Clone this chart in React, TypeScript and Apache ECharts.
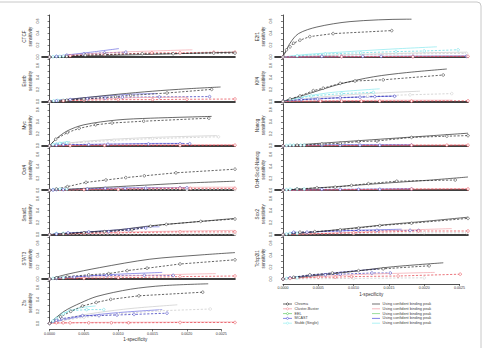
import { useEffect, useRef } from 'react';
import * as echarts from 'echarts';

// x values: 1-specificity in units of 1e-4; y values: sensitivity.
const LEFT_PANELS = ['CTCF', 'Esrrb', 'Myc', 'Oct4', 'Smad1', 'STAT3', 'Zfx'];
const RIGHT_PANELS = ['E2f1', 'Klf4', 'Nanog', 'Oct4-Sox2-Nanog', 'Sox2', 'Tcfcp2l1'];
const METHODS = ['Chroma', 'Cluster-Buster', 'EEL', 'MCAST', 'Stubb (Single)'];
const CONF_LABEL = 'Using confident binding peak';
const Y_TICKS = [0, 0.1, 0.2, 0.3, 0.4, 0.5, 0.6, 0.7];
const Y_LABELS = [0, 0.2, 0.4, 0.6];

// CTCF
const ctcfChroma = [[0, 0], [2.5, 0.01], [5.2, 0.03], [8.1, 0.04], [13.5, 0.055], [18, 0.055], [23.9, 0.065], [27, 0.065]];
const ctcfChromaConf = [[0, 0], [5, 0.015], [10, 0.03], [15, 0.045], [20, 0.06], [27, 0.08]];
const ctcfCluster = [[0, 0], [3, 0.02], [8, 0.04], [14.9, 0.07], [19, 0.07], [23.9, 0.08], [27, 0.08]];
const ctcfClusterConf = [[0, 0], [4, 0.04], [10, 0.08], [15, 0.1], [20.8, 0.12]];
const ctcfMcast = [[0, 0], [1, 0.01], [2.5, 0.03], [5, 0.05], [8, 0.07], [11.1, 0.08]];
const ctcfMcastConf = [[0, 0], [3, 0.04], [6, 0.08], [10.1, 0.14]];
const ctcfStubb = [[0, 0], [0.5, 0.005], [1, 0.01], [1.5, 0.01], [2, 0.015]];
const ctcfStubbConf = [[0, 0], [2, 0.02]];

// Esrrb
const esrrbChroma = [[0, 0], [2.5, 0.02], [5, 0.04], [9.6, 0.08], [11.8, 0.1], [17.1, 0.14], [23.6, 0.2]];
const esrrbChromaConf = [[0, 0], [5, 0.06], [10, 0.12], [15, 0.17], [20, 0.21], [24.9, 0.24]];
const esrrbCluster = [[0, 0], [2, 0.01], [5, 0.02], [10, 0.03], [15, 0.03], [20, 0.035], [27, 0.04]];
const esrrbClusterConf = [[0, 0], [5, 0.03], [12, 0.06], [20, 0.07]];
const esrrbMcast = [[0, 0], [1, 0.01], [3, 0.03], [5.5, 0.045], [8.1, 0.055], [10.6, 0.07], [16, 0.075], [23.3, 0.08]];
const esrrbMcastConf = [[0, 0], [4, 0.05], [8, 0.09], [12, 0.12], [15.6, 0.13]];
const esrrbStubb = [[0, 0], [0.6, 0.01], [1.2, 0.015], [2, 0.02]];
const esrrbStubbConf = [[0, 0], [2.5, 0.03]];

// Myc
const mycChroma = [[0, 0], [0.9, 0.11], [2.6, 0.22], [4.3, 0.29], [6.7, 0.35], [9.1, 0.38], [13.7, 0.41], [23.2, 0.46]];
const mycChromaConf = [[0, 0], [1, 0.12], [2.6, 0.25], [5, 0.35], [9.8, 0.43], [14.7, 0.46], [23.6, 0.49]];
const mycCluster = [[0, 0], [3, 0.002], [8, 0.005], [19, 0.005], [27, 0.01]];
const mycClusterConf = [[0, 0], [10, 0.015], [20, 0.02], [27, 0.02]];
const mycEel = [[0, 0], [2, 0.03], [5, 0.06], [9.4, 0.09], [15, 0.12], [24.6, 0.15]];
const mycEelConf = [[0, 0], [3, 0.05], [8, 0.1], [15, 0.14], [24.4, 0.17]];
const mycMcast = [[0, 0], [1, 0.01], [2, 0.02], [5.7, 0.02], [8.5, 0.025], [14.4, 0.03], [19, 0.035], [20.4, 0.035]];
const mycMcastConf = [[0, 0], [4, 0.02], [10, 0.03], [16, 0.04], [19.5, 0.04]];
const mycStubb = [[0, 0], [0.5, 0.02], [1, 0.03], [1.5, 0.04], [2.5, 0.05]];
const mycStubbConf = [[0, 0], [1, 0.04], [2, 0.06], [3, 0.07]];

// Oct4
const oct4Chroma = [[0, 0], [1, 0.02], [2.6, 0.06], [5.3, 0.13], [8.2, 0.17], [11.1, 0.21], [13.8, 0.24], [18.4, 0.29], [27, 0.35]];
const oct4ChromaConf = [[0, 0], [5, 0.03], [10, 0.06], [15, 0.09], [20, 0.12], [27, 0.15]];
const oct4Cluster = [[0, 0], [5, 0.01], [10, 0.015], [19, 0.03], [20.5, 0.03], [27, 0.03]];
const oct4ClusterConf = [[0, 0], [8, 0.02], [16, 0.04], [24, 0.05], [27, 0.05]];
const oct4Eel = [[0, 0], [10, 0.01], [20, 0.01], [27, 0.01]];
const oct4Mcast = [[0, 0], [0.5, 0.005], [1, 0.01], [2, 0.01], [5.5, 0.02], [8.1, 0.03], [11, 0.03], [14, 0.035], [19, 0.04], [20, 0.04]];
const oct4McastConf = [[0, 0], [5, 0.02], [12, 0.04], [20, 0.045]];
const oct4Stubb = [[0, 0], [0.5, 0.01], [1, 0.015], [1.5, 0.02], [2.5, 0.02]];

// Smad1
const smad1Chroma = [[0, 0], [2, 0.01], [5, 0.03], [8, 0.05], [12, 0.08], [14.7, 0.14], [17, 0.17], [22, 0.22], [27, 0.26]];
const smad1ChromaConf = [[0, 0], [5, 0.04], [10, 0.08], [15, 0.15], [20, 0.2], [27, 0.27]];
const smad1Cluster = [[0, 0], [5, 0.02], [10, 0.03], [19, 0.045], [27, 0.045]];
const smad1ClusterConf = [[0, 0], [10, 0.04], [20, 0.06], [27, 0.07]];
const smad1Eel = [[0, 0], [27, 0.01]];
const smad1Mcast = [[0, 0], [1, 0.01], [2.7, 0.03], [5.7, 0.045], [8.6, 0.05], [11.5, 0.08], [14, 0.11]];
const smad1McastConf = [[0, 0], [5, 0.04], [10, 0.08], [14.9, 0.13], [16, 0.13]];
const smad1Stubb = [[0, 0], [1, 0.02], [2, 0.02]];

// STAT3
const stat3Chroma = [[0, 0], [1, 0.02], [2.6, 0.04], [5.7, 0.07], [8.6, 0.09], [11.3, 0.14], [14.2, 0.18], [19, 0.25], [27, 0.32]];
const stat3ChromaConf = [[0, 0], [2.6, 0.08], [7.3, 0.19], [14.6, 0.33], [21.9, 0.4], [27, 0.44]];
const stat3Cluster = [[0, 0], [5, 0.01], [10, 0.02], [19, 0.04], [27, 0.05]];
const stat3ClusterConf = [[0, 0], [6, 0.03], [14, 0.06], [20, 0.08], [24.2, 0.09]];
const stat3Mcast = [[0, 0], [1, 0.01], [3.6, 0.03], [5.7, 0.05], [8.3, 0.06], [13.8, 0.06], [18, 0.06]];
const stat3McastConf = [[0, 0], [4, 0.04], [10, 0.08], [16.4, 0.11]];
const stat3Stubb = [[0, 0], [0.5, 0.01], [1, 0.015], [2, 0.02]];

// Zfx
const zfxChroma = [[0, 0], [1.6, 0.11], [3.1, 0.2], [4.8, 0.29], [6.8, 0.35], [8.9, 0.4], [13, 0.46], [22.3, 0.52]];
const zfxChromaConf = [[0, 0], [2.1, 0.2], [4.5, 0.34], [6.9, 0.45], [11.8, 0.57], [16.6, 0.63], [23.1, 0.66]];
const zfxCluster = [[0, 0], [1, 0.01], [2, 0.01], [3, 0.01], [5.7, 0.01], [9, 0.01], [11.5, 0.01], [19, 0.015], [27, 0.015]];
const zfxClusterConf = [[0, 0], [5, 0.015], [15, 0.02], [27, 0.025]];
const zfxEel = [[0, 0], [2, 0.05], [5, 0.1], [10, 0.16], [16, 0.21], [23.4, 0.24]];
const zfxEelConf = [[0, 0], [3, 0.1], [7, 0.18], [12, 0.25], [18.6, 0.31]];
const zfxMcast = [[0, 0], [1, 0.05], [1.8, 0.08], [4.8, 0.13], [7.2, 0.13], [9.8, 0.14], [12.3, 0.15], [17.1, 0.17]];
const zfxMcastConf = [[0, 0], [2, 0.06], [5, 0.12], [10, 0.18], [16.4, 0.23]];
const zfxStubb = [[0, 0], [0.5, 0.04], [1, 0.08], [2, 0.16], [3, 0.21], [5.4, 0.23], [7.9, 0.23]];
const zfxStubbConf = [[0, 0], [1, 0.1], [2, 0.17], [3.5, 0.23], [5, 0.27], [6.7, 0.29]];

// E2f1
const e2f1Chroma = [[0, 0], [0.5, 0.12], [1, 0.17], [1.5, 0.23], [2.4, 0.28], [3.8, 0.34], [7.1, 0.39], [15.4, 0.44]];
const e2f1ChromaConf = [[0, 0], [1, 0.23], [2.2, 0.39], [4.8, 0.5], [9.5, 0.59], [17.5, 0.63], [18.2, 0.63]];
const e2f1Cluster = [[0, 0], [8.3, 0.005], [18.4, 0.005], [26.2, 0.01]];
const e2f1ClusterConf = [[0, 0], [26, 0.015]];
const e2f1Eel = [[0, 0], [8, 0.03], [16, 0.05], [26, 0.06]];
const e2f1EelConf = [[0, 0], [10, 0.04], [20, 0.07], [26, 0.08]];
const e2f1Mcast = [[0, 0], [5.5, 0.01], [8.3, 0.01], [11.3, 0.01], [13.9, 0.01], [18.4, 0.01], [26, 0.01]];
const e2f1McastConf = [[0, 0], [26, 0.02]];
const e2f1Stubb = [[0, 0], [2, 0.02], [6, 0.05], [11, 0.07], [16, 0.09], [20, 0.1], [24.8, 0.12]];
const e2f1StubbConf = [[0, 0], [3, 0.04], [8, 0.08], [15, 0.13], [21.8, 0.17]];

// Klf4
const klf4Chroma = [[0, 0], [1, 0.04], [2.4, 0.09], [4.3, 0.18], [5.7, 0.22], [8.1, 0.3], [10.2, 0.34], [14.2, 0.36], [22.7, 0.44]];
const klf4ChromaConf = [[0, 0], [3.4, 0.12], [8.1, 0.29], [12.8, 0.41], [17.5, 0.48], [23.2, 0.54]];
const klf4Cluster = [[0, 0], [5.3, 0.005], [8.3, 0.005], [11.1, 0.005], [13.7, 0.005], [18.2, 0.005], [26.2, 0.01]];
const klf4ClusterConf = [[0, 0], [10, 0.015], [20, 0.02], [24, 0.02]];
const klf4Eel = [[0, 0], [5, 0.05], [12, 0.09], [18, 0.11], [23.9, 0.13]];
const klf4EelConf = [[0, 0], [5, 0.07], [12, 0.13], [19.4, 0.17]];
const klf4Mcast = [[0, 0], [2.6, 0.03], [4.9, 0.04], [8.1, 0.06], [10.9, 0.07], [13, 0.08], [15.8, 0.085]];
const klf4McastConf = [[0, 0], [4, 0.04], [10, 0.07], [16.1, 0.09]];
const klf4Stubb = [[0, 0], [1, 0.03], [4, 0.09], [8.3, 0.13], [12.8, 0.15]];
const klf4StubbConf = [[0, 0], [3, 0.08], [7, 0.15], [13.7, 0.21]];

// Nanog
const nanogChroma = [[0, 0], [2, 0.01], [5.5, 0.03], [8.1, 0.04], [10.7, 0.07], [13.3, 0.08], [18.2, 0.14], [23.2, 0.16], [26.2, 0.17]];
const nanogChromaConf = [[0, 0], [5, 0.04], [10, 0.08], [15, 0.12], [20, 0.16], [26.2, 0.21]];
const nanogCluster = [[0, 0], [18.2, 0.01], [23.2, 0.01], [26.2, 0.01]];
const nanogClusterConf = [[0, 0], [26, 0.015]];
const nanogMcast = [[0, 0], [5.5, 0.01], [8.1, 0.01], [10.9, 0.01], [13.7, 0.01], [18.2, 0.01]];
const nanogMcastConf = [[0, 0], [10, 0.02], [18, 0.02]];
const nanogStubb = [[0, 0], [0.5, 0.005], [1, 0.01], [1.5, 0.01], [2.5, 0.01], [3, 0.01]];

// Oct4-Sox2-Nanog
const osnChroma = [[0, 0], [2, 0.02], [4.8, 0.04], [7.4, 0.05], [9.7, 0.08], [12.1, 0.11], [16.1, 0.15], [24.4, 0.17]];
const osnChromaConf = [[0, 0], [5, 0.04], [10, 0.08], [16, 0.13], [21, 0.17], [26.2, 0.22]];
const osnCluster = [[0, 0], [18.2, 0.02], [26.2, 0.02]];
const osnClusterConf = [[0, 0], [26, 0.025]];
const osnMcast = [[0, 0], [5.5, 0.015], [8.1, 0.015], [10.7, 0.015], [13.7, 0.015], [18.2, 0.02]];
const osnMcastConf = [[0, 0], [18, 0.025]];
const osnStubb = [[0, 0], [0.5, 0.01], [1, 0.015], [2, 0.02], [3, 0.02]];

// Sox2
const sox2Chroma = [[0, 0], [2.4, 0.04], [4.5, 0.05], [8.1, 0.08], [10.7, 0.11], [13.7, 0.15], [18.2, 0.19], [26.2, 0.27]];
const sox2ChromaConf = [[0, 0], [5, 0.05], [10, 0.11], [15, 0.17], [20, 0.22], [26.2, 0.29]];
const sox2Cluster = [[0, 0], [10, 0.03], [19.2, 0.06], [26.2, 0.06]];
const sox2ClusterConf = [[0, 0], [8, 0.03], [16, 0.07], [23.9, 0.1]];
const sox2Eel = [[0, 0], [10, 0.02], [20, 0.03], [26, 0.03]];
const sox2Mcast = [[0, 0], [1.5, 0.04], [3.4, 0.04], [8.1, 0.06], [10.7, 0.07], [13.3, 0.07], [18, 0.07], [19.2, 0.07]];
const sox2McastConf = [[0, 0], [5, 0.05], [10, 0.07], [16.8, 0.09]];
const sox2Stubb = [[0, 0], [0.5, 0.01], [1, 0.02], [2, 0.02]];

// Tcfcp2l1
const tcfChroma = [[0, 0], [1.5, 0.03], [3.8, 0.07], [7, 0.1], [10.7, 0.14], [14.2, 0.17], [20.7, 0.22]];
const tcfChromaConf = [[0, 0], [4, 0.05], [8.1, 0.1], [15.2, 0.2], [22.7, 0.27]];
const tcfCluster = [[0, 0], [1, 0.01], [5, 0.03], [7.4, 0.03], [9.7, 0.04], [16.3, 0.05], [25.1, 0.08]];
const tcfClusterConf = [[0, 0], [5, 0.04], [12, 0.08], [21.5, 0.11]];
const tcfEel = [[0, 0], [10, 0.01], [20, 0.02]];
const tcfMcast = [[0, 0], [1, 0.02], [3.8, 0.06], [6, 0.07], [8.1, 0.08], [12.6, 0.1], [15.2, 0.1]];
const tcfMcastConf = [[0, 0], [3, 0.05], [7, 0.1], [13.5, 0.17]];
const tcfStubb = [[0, 0], [0.5, 0.01], [1, 0.02], [2, 0.02]];

type Pts = number[][];
type PanelData = Record<string, Pts>;

const PANEL_DATA: Record<string, PanelData> = {
  CTCF: { chroma: ctcfChroma, chromaConf: ctcfChromaConf, cluster: ctcfCluster, clusterConf: ctcfClusterConf, mcast: ctcfMcast, mcastConf: ctcfMcastConf, stubb: ctcfStubb, stubbConf: ctcfStubbConf },
  Esrrb: { chroma: esrrbChroma, chromaConf: esrrbChromaConf, cluster: esrrbCluster, clusterConf: esrrbClusterConf, mcast: esrrbMcast, mcastConf: esrrbMcastConf, stubb: esrrbStubb, stubbConf: esrrbStubbConf },
  Myc: { chroma: mycChroma, chromaConf: mycChromaConf, cluster: mycCluster, clusterConf: mycClusterConf, eel: mycEel, eelConf: mycEelConf, mcast: mycMcast, mcastConf: mycMcastConf, stubb: mycStubb, stubbConf: mycStubbConf },
  Oct4: { chroma: oct4Chroma, chromaConf: oct4ChromaConf, cluster: oct4Cluster, clusterConf: oct4ClusterConf, eel: oct4Eel, mcast: oct4Mcast, mcastConf: oct4McastConf, stubb: oct4Stubb },
  Smad1: { chroma: smad1Chroma, chromaConf: smad1ChromaConf, cluster: smad1Cluster, clusterConf: smad1ClusterConf, eel: smad1Eel, mcast: smad1Mcast, mcastConf: smad1McastConf, stubb: smad1Stubb },
  STAT3: { chroma: stat3Chroma, chromaConf: stat3ChromaConf, cluster: stat3Cluster, clusterConf: stat3ClusterConf, mcast: stat3Mcast, mcastConf: stat3McastConf, stubb: stat3Stubb },
  Zfx: { chroma: zfxChroma, chromaConf: zfxChromaConf, cluster: zfxCluster, clusterConf: zfxClusterConf, eel: zfxEel, eelConf: zfxEelConf, mcast: zfxMcast, mcastConf: zfxMcastConf, stubb: zfxStubb, stubbConf: zfxStubbConf },
  E2f1: { chroma: e2f1Chroma, chromaConf: e2f1ChromaConf, cluster: e2f1Cluster, clusterConf: e2f1ClusterConf, eel: e2f1Eel, eelConf: e2f1EelConf, mcast: e2f1Mcast, mcastConf: e2f1McastConf, stubb: e2f1Stubb, stubbConf: e2f1StubbConf },
  Klf4: { chroma: klf4Chroma, chromaConf: klf4ChromaConf, cluster: klf4Cluster, clusterConf: klf4ClusterConf, eel: klf4Eel, eelConf: klf4EelConf, mcast: klf4Mcast, mcastConf: klf4McastConf, stubb: klf4Stubb, stubbConf: klf4StubbConf },
  Nanog: { chroma: nanogChroma, chromaConf: nanogChromaConf, cluster: nanogCluster, clusterConf: nanogClusterConf, mcast: nanogMcast, mcastConf: nanogMcastConf, stubb: nanogStubb },
  'Oct4-Sox2-Nanog': { chroma: osnChroma, chromaConf: osnChromaConf, cluster: osnCluster, clusterConf: osnClusterConf, mcast: osnMcast, mcastConf: osnMcastConf, stubb: osnStubb },
  Sox2: { chroma: sox2Chroma, chromaConf: sox2ChromaConf, cluster: sox2Cluster, clusterConf: sox2ClusterConf, eel: sox2Eel, mcast: sox2Mcast, mcastConf: sox2McastConf, stubb: sox2Stubb },
  Tcfcp2l1: { chroma: tcfChroma, chromaConf: tcfChromaConf, cluster: tcfCluster, clusterConf: tcfClusterConf, eel: tcfEel, mcast: tcfMcast, mcastConf: tcfMcastConf, stubb: tcfStubb },
};

// Drawing order: pale methods first, Chroma on top.
const SERIES_STYLES = [
  { key: 'eelConf', color: '#cacaca', dashed: false },
  { key: 'eel', color: '#c6c6c6', dashed: true },
  { key: 'stubbConf', color: '#86e8ee', dashed: false },
  { key: 'stubb', color: '#5ad8e0', dashed: true },
  { key: 'mcastConf', color: '#6a6ae0', dashed: false },
  { key: 'mcast', color: '#2a2ab8', dashed: true },
  { key: 'clusterConf', color: '#f4a4ab', dashed: false },
  { key: 'cluster', color: '#e23a44', dashed: true },
  { key: 'chromaConf', color: '#2a2a2a', dashed: false },
  { key: 'chroma', color: '#222222', dashed: true },
];

const LEGEND_COLORS = ['#000000', '#ee7c86', '#46c046', '#3a3ad0', '#86ecf0'];
const CONF_COLORS = ['#333333', '#f29aa2', '#70d070', '#4a4ad8', '#8ceef2'];

const FONT = 'Liberation Sans, Arial, sans-serif';
const ROW_Y0 = 57;
const ROW_STEP = 44.4;
const PX_PER_Y = 60;
const Y_MIN = -0.02;
const Y_MAX = 0.7;
const COLS = [
  { panels: LEFT_PANELS, left: 42, xMin: -1.1, xMax: 27, zeroX: 49.5, pxPerX: 6.868, axisGap: 6, labelGap: 3 },
  { panels: RIGHT_PANELS, left: 275, xMin: -1.13, xMax: 26.2, zeroX: 283, pxPerX: 7.06, axisGap: 5, labelGap: 2 },
];

function buildOption() {
  const grid: any[] = [];
  const xAxis: any[] = [];
  const yAxis: any[] = [];
  const series: any[] = [];

  COLS.forEach((col) => {
    col.panels.forEach((name, row) => {
      const y0 = ROW_Y0 + row * ROW_STEP;
      const idx = grid.length;
      grid.push({ left: col.left, width: 193, top: y0 - Y_MAX * PX_PER_Y, height: (Y_MAX - Y_MIN) * PX_PER_Y });
      const isLast = row === col.panels.length - 1;
      xAxis.push({
        gridIndex: idx, type: 'value', min: col.xMin, max: col.xMax,
        axisLine: { show: !isLast, lineStyle: { color: '#000', width: 1.6 } },
        axisTick: { show: false }, axisLabel: { show: false }, splitLine: { show: false },
      });
      yAxis.push({
        gridIndex: idx, type: 'value', min: Y_MIN, max: Y_MAX,
        name: name + '\nsensitivity', nameLocation: 'middle', nameGap: 9, nameRotate: 90,
        nameTextStyle: { fontSize: 4.6, lineHeight: 5.6, color: '#333', fontFamily: FONT },
        axisLine: { show: true, lineStyle: { color: '#222', width: 0.8 } },
        axisTick: { show: true, length: 2, customValues: Y_TICKS, lineStyle: { color: '#222', width: 0.6 } },
        axisLabel: {
          show: true, customValues: Y_LABELS, rotate: 90, fontSize: 3.6, margin: 2, color: '#333', fontFamily: FONT,
          formatter: (v: number) => v.toFixed(1),
        },
        splitLine: { show: false },
      });
      const data = PANEL_DATA[name];
      SERIES_STYLES.forEach((s) => {
        const pts = data[s.key];
        if (!pts) return;
        series.push({
          type: 'line', xAxisIndex: idx, yAxisIndex: idx, data: pts, silent: true,
          smooth: s.dashed ? false : 0.3,
          showSymbol: s.dashed, symbol: 'circle', symbolSize: 2.6,
          itemStyle: { color: '#ffffff', borderColor: s.color, borderWidth: 0.5 },
          lineStyle: { color: s.color, width: 0.7, type: s.dashed ? [2.2, 1.6] : 'solid' },
          z: 2,
        });
      });
    });

    // x axis beneath the bottom panel, spanning the labelled ticks
    const lastY0 = ROW_Y0 + (col.panels.length - 1) * ROW_STEP;
    const aIdx = grid.length;
    grid.push({ left: col.zeroX, width: col.pxPerX * 25, top: lastY0 + col.axisGap - 1, height: 1 });
    xAxis.push({
      gridIndex: aIdx, type: 'value', min: 0, max: 25, interval: 5,
      name: '1-specificity', nameLocation: 'middle', nameGap: 8,
      nameTextStyle: { fontSize: 4.6, color: '#333', fontFamily: FONT },
      axisLine: { show: true, lineStyle: { color: '#222', width: 0.8 } },
      axisTick: { show: true, length: 2, lineStyle: { color: '#222', width: 0.6 } },
      axisLabel: {
        show: true, fontSize: 3.6, margin: col.labelGap, color: '#333', fontFamily: FONT,
        formatter: (v: number) => (v / 10000).toFixed(4),
      },
      splitLine: { show: false },
    });
    yAxis.push({ gridIndex: aIdx, type: 'value', show: false, min: 0, max: 1 });
  });

  // legend block
  const legend: any[] = [];
  const rowY = [304, 308.8, 313.6, 318.4, 323.2];
  METHODS.forEach((m, i) => {
    const y = rowY[i];
    legend.push({ type: 'line', shape: { x1: 283, y1: y, x2: 292, y2: y }, style: { stroke: LEGEND_COLORS[i], lineWidth: 0.6 } });
    legend.push({ type: 'circle', shape: { cx: 287.5, cy: y, r: 1.1 }, style: { stroke: LEGEND_COLORS[i], fill: '#fff', lineWidth: 0.5 } });
    legend.push({ type: 'text', style: { text: m, x: 294.5, y, fontSize: 3.8, fill: '#444', verticalAlign: 'middle', fontFamily: FONT } });
    legend.push({ type: 'line', shape: { x1: 372, y1: y, x2: 380, y2: y }, style: { stroke: CONF_COLORS[i], lineWidth: 0.7 } });
    legend.push({ type: 'text', style: { text: CONF_LABEL, x: 382.5, y, fontSize: 3.8, fill: '#444', verticalAlign: 'middle', fontFamily: FONT } });
  });

  const graphic = [
    { type: 'rect', shape: { x: -10, y: 2, width: 491, height: 400, r: 4 }, style: { fill: 'none', stroke: '#c8c8c8', lineWidth: 1 }, z: 0 },
    ...legend,
  ];

  return { animation: false, backgroundColor: '#ffffff', grid, xAxis, yAxis, series, graphic };
}

export default function App() {
  const ref = useRef<HTMLDivElement>(null);
  useEffect(() => {
    if (!ref.current) return;
    const chart = echarts.init(ref.current, null, { renderer: 'svg' });
    chart.setOption(buildOption() as any);
    return () => chart.dispose();
  }, []);
  return <div ref={ref} style={{ position: 'absolute', left: 0, top: 0, width: 487, height: 348 }} />;
}
